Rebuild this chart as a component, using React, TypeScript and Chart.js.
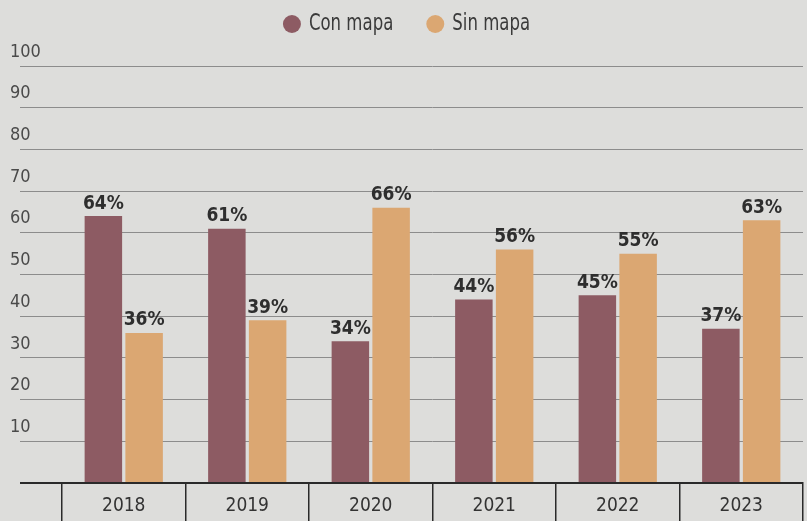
import React, { useEffect, useRef } from "react";
import { Chart, registerables } from "chart.js";

Chart.register(...registerables);

const categories = ["2018", "2019", "2020", "2021", "2022", "2023"];
const conMapa = [64, 61, 34, 44, 45, 37];
const sinMapa = [36, 39, 66, 56, 55, 63];
const yTicks = [0, 10, 20, 30, 40, 50, 60, 70, 80, 90, 100];
const seriesNames = ["Con mapa", "Sin mapa"];
const seriesColors = ["#8d5b63", "#dba772"];

const FONT = "'DejaVu Sans Condensed', 'Roboto', sans-serif";

const bgPlugin = {
  id: "bg",
  beforeDraw(chart: any) {
    const { ctx, width, height } = chart;
    ctx.save();
    ctx.fillStyle = "#dddddb";
    ctx.fillRect(0, 0, width, height);
    ctx.restore();
  },
};

const legendPlugin = {
  id: "customLegend",
  afterDraw(chart: any) {
    const { ctx } = chart;
    const sx = 0.8;
    ctx.save();
    ctx.font = `23px ${FONT}`;
    ctx.textBaseline = "middle";
    const y = 24;
    const widths = seriesNames.map((n) => ctx.measureText(n).width * sx);
    const r = 9;
    const gapDotText = 8;
    const gapItems = 33;
    const total = widths.reduce((a, w) => a + 2 * r + gapDotText + w, 0) + gapItems;
    let x = chart.width / 2 - total / 2 + 3;
    seriesNames.forEach((n, i) => {
      ctx.fillStyle = seriesColors[i];
      ctx.beginPath();
      ctx.arc(x + r, y, r, 0, Math.PI * 2);
      ctx.fill();
      x += 2 * r + gapDotText;
      ctx.save();
      ctx.translate(x, y);
      ctx.scale(sx, 1);
      ctx.fillStyle = "#3a3a3a";
      ctx.textAlign = "left";
      ctx.fillText(n, 0, 0);
      ctx.restore();
      x += widths[i] + gapItems;
    });
    ctx.restore();
  },
};

const labelPlugin = {
  id: "barLabels",
  afterDatasetsDraw(chart: any) {
    const { ctx } = chart;
    ctx.save();
    ctx.font = `bold 19px ${FONT}`;
    ctx.fillStyle = "#2e2e2e";
    ctx.textAlign = "center";
    ctx.textBaseline = "bottom";
    chart.data.datasets.forEach((ds: any, i: number) => {
      const meta = chart.getDatasetMeta(i);
      meta.data.forEach((bar: any, j: number) => {
        ctx.fillText(`${ds.data[j]}%`, bar.x, bar.y - 3);
      });
    });
    ctx.restore();
  },
};

export default function App() {
  const ref = useRef<HTMLCanvasElement>(null);
  useEffect(() => {
    const chart = new Chart(ref.current!, {
      type: "bar",
      data: {
        labels: categories,
        datasets: [
          {
            label: seriesNames[0],
            data: conMapa,
            backgroundColor: seriesColors[0],
            categoryPercentage: 0.66,
            barPercentage: 0.92,
          },
          {
            label: seriesNames[1],
            data: sinMapa,
            backgroundColor: seriesColors[1],
            categoryPercentage: 0.66,
            barPercentage: 0.92,
          },
        ],
      },
      options: {
        animation: false,
        responsive: false,
        maintainAspectRatio: false,
        layout: { padding: { top: 66, right: 4, bottom: 0, left: 10 } },
        plugins: {
          legend: { display: false },
          tooltip: { enabled: false },
        },
        scales: {
          x: {
            grid: {
              display: true,
              drawOnChartArea: false,
              drawTicks: true,
              tickLength: 40,
              color: "#2a2a2a",
              lineWidth: 1.5,
              offset: true,
            },
            border: { display: true, color: "#2a2a2a", width: 2 },
            ticks: {
              color: "#333333",
              font: { family: FONT, size: 19 },
              padding: -28,
            },
            afterFit(scale: any) {
              scale.height = 38;
            },
          },
          y: {
            min: 0,
            max: 100,
            afterBuildTicks(scale: any) {
              scale.ticks = yTicks.map((v) => ({ value: v }));
            },
            grid: {
              display: true,
              drawTicks: true,
              tickLength: 42,
              color: (c: any) => (c.tick && c.tick.value === 0 ? "#2a2a2a" : "#8c8c8c"),
              lineWidth: (c: any) => (c.tick && c.tick.value === 0 ? 2 : 1),
            },
            border: { display: false },
            ticks: {
              color: "#4a4a4a",
              font: { family: FONT, size: 18 },
              crossAlign: "far",
              labelOffset: -14,
              padding: 0,
              callback: (v: any) => (v === 0 ? "" : String(v)),
            },
            afterFit(scale: any) {
              scale.width = 52;
            },
          },
        },
      },
      plugins: [bgPlugin, labelPlugin, legendPlugin],
    });
    return () => chart.destroy();
  }, []);
  return (
    <div style={{ position: "fixed", left: 0, top: 0, width: 807, height: 521 }}>
      <canvas ref={ref} width={807} height={521} style={{ width: 807, height: 521 }} />
    </div>
  );
}
